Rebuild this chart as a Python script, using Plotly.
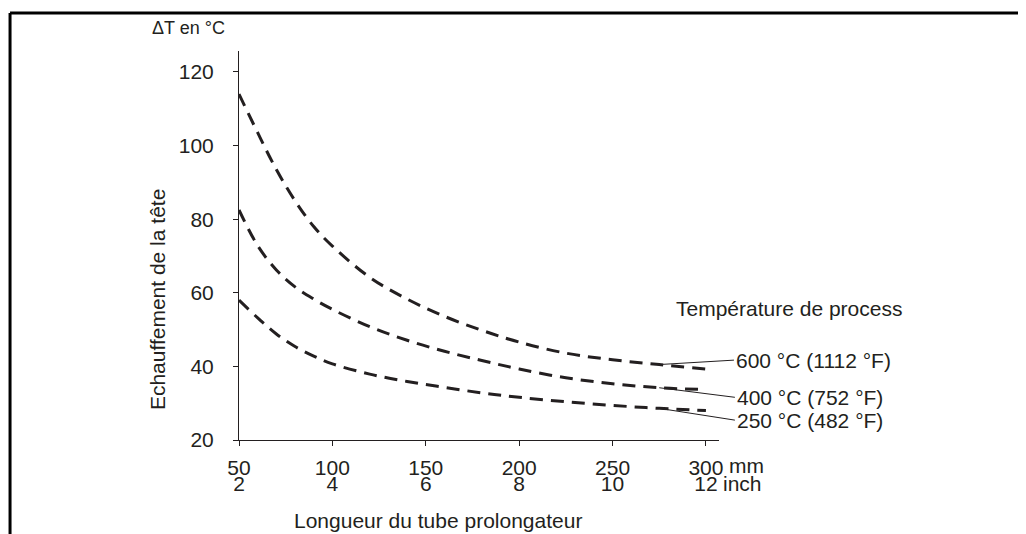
import plotly.graph_objects as go

# ---- data ----
LENGTH_MM = [50, 60, 70, 80, 90, 100, 120, 140, 160, 180, 200, 225, 250, 275, 300]
T600 = [114, 103.5, 93.5, 85, 78, 72.7, 64.2, 58.3, 53.6, 49.8, 46.6, 43.6, 41.8, 40.5, 39.3]
T400 = [82.5, 72.8, 66.2, 61.6, 58.3, 55.5, 50.8, 47.1, 44.1, 41.6, 39.3, 36.9, 35.3, 34.2, 33.7]
T250 = [58, 53.2, 48.8, 45.4, 42.8, 40.7, 37.9, 35.9, 34.3, 32.8, 31.6, 30.4, 29.4, 28.6, 28]

SERIES_LABELS = ["600 °C (1112 °F)", "400 °C (752 °F)", "250 °C (482 °F)"]
LABEL_TAIL_X = [315, 315.5, 315.5]
LABEL_TAIL_Y = [41.7, 31.6, 25.4]
LEADER_INDEX = 13  # point at 275 mm

X_TICKS = [50, 100, 150, 200, 250, 300]
X_TICK_MM = ["50", "100", "150", "200", "250", "300"]
X_TICK_INCH = ["2", "4", "6", "8", "10", "12"]
Y_TICKS = [20, 40, 60, 80, 100, 120]

INK = "#231f20"
FONT = "Liberation Sans, Arial, sans-serif"
FS = 21

fig = go.Figure()
for vals in (T600, T400, T250):
    fig.add_trace(go.Scatter(
        x=LENGTH_MM, y=vals, mode="lines",
        line=dict(color=INK, width=3, dash="13px,8px", shape="spline", smoothing=1),
        hoverinfo="skip", showlegend=False,
    ))
# invisible trace to host the inch axis
fig.add_trace(go.Scatter(x=X_TICKS, y=[None] * len(X_TICKS), xaxis="x2",
                         mode="markers", showlegend=False, hoverinfo="skip"))

# page body has an 8px margin, so the figure is 8px smaller and margins shifted
fig.update_layout(
    width=1018, height=526,
    margin=dict(l=231, r=307, t=43, b=94, pad=0),
    paper_bgcolor="white", plot_bgcolor="white",
    font=dict(family=FONT, size=FS, color=INK),
    xaxis=dict(range=[50, 307], tickvals=X_TICKS, ticktext=X_TICK_MM,
               showline=True, linecolor=INK, linewidth=1,
               ticks="outside", ticklen=5, tickcolor=INK, tickwidth=1,
               showgrid=False, zeroline=False, ticklabelstandoff=4,
               tickfont=dict(size=FS, color=INK)),
    xaxis2=dict(range=[50, 307], overlaying="x", anchor="y", side="bottom",
                tickvals=X_TICKS, ticktext=X_TICK_INCH,
                showline=False, ticks="", showgrid=False, zeroline=False,
                ticklabelstandoff=29, tickfont=dict(size=FS, color=INK)),
    yaxis=dict(range=[20, 125.7], tickvals=Y_TICKS,
               showline=True, linecolor=INK, linewidth=1,
               ticks="outside", ticklen=5, tickcolor=INK, tickwidth=1,
               showgrid=False, zeroline=False, ticklabelstandoff=15,
               tickfont=dict(size=FS, color=INK)),
)

annotations = []
for label, vals, tx, ty in zip(SERIES_LABELS, (T600, T400, T250), LABEL_TAIL_X, LABEL_TAIL_Y):
    annotations.append(dict(
        x=LENGTH_MM[LEADER_INDEX], y=vals[LEADER_INDEX], xref="x", yref="y",
        ax=tx, ay=ty, axref="x", ayref="y",
        text=label, showarrow=True, arrowhead=0, arrowwidth=1, arrowcolor=INK,
        standoff=0, xanchor="left", yanchor="middle",
        font=dict(size=FS, color=INK),
    ))

annotations += [
    dict(text="ΔT en °C", x=-0.1854, y=1.059, xref="paper", yref="paper",
         xanchor="left", yanchor="middle", showarrow=False, font=dict(size=18, color=INK)),
    dict(text="Echauffement de la tête", x=-0.171, y=0.362, xref="paper", yref="paper",
         textangle=-90, xanchor="center", yanchor="middle", showarrow=False,
         font=dict(size=FS, color=INK)),
    dict(text="Longueur du tube prolongateur", x=0.110, y=-0.2057, xref="paper", yref="paper",
         xanchor="left", yanchor="middle", showarrow=False, font=dict(size=FS, color=INK)),
    dict(text="Température de process", x=0.906, y=0.337, xref="paper", yref="paper",
         xanchor="left", yanchor="middle", showarrow=False, font=dict(size=FS, color=INK)),
    dict(text="mm", x=X_TICKS[-1], xref="x", y=-0.0643, yref="paper", xshift=21,
         xanchor="left", yanchor="middle", showarrow=False, font=dict(size=FS, color=INK)),
    dict(text="inch", x=X_TICKS[-1], xref="x", y=-0.113, yref="paper", xshift=15,
         xanchor="left", yanchor="middle", showarrow=False, font=dict(size=FS, color=INK)),
]
fig.update_layout(annotations=annotations)

# frame lines (top and left) of the original figure
fig.update_layout(shapes=[
    dict(type="line", xref="paper", yref="paper", x0=-0.477, x1=1.65, y0=1.0977, y1=1.0977,
         line=dict(color="black", width=3)),
    dict(type="line", xref="paper", yref="paper", x0=-0.477, x1=-0.477, y0=1.0977, y1=-0.25,
         line=dict(color="black", width=3)),
])

fig.write_html("out.html")
